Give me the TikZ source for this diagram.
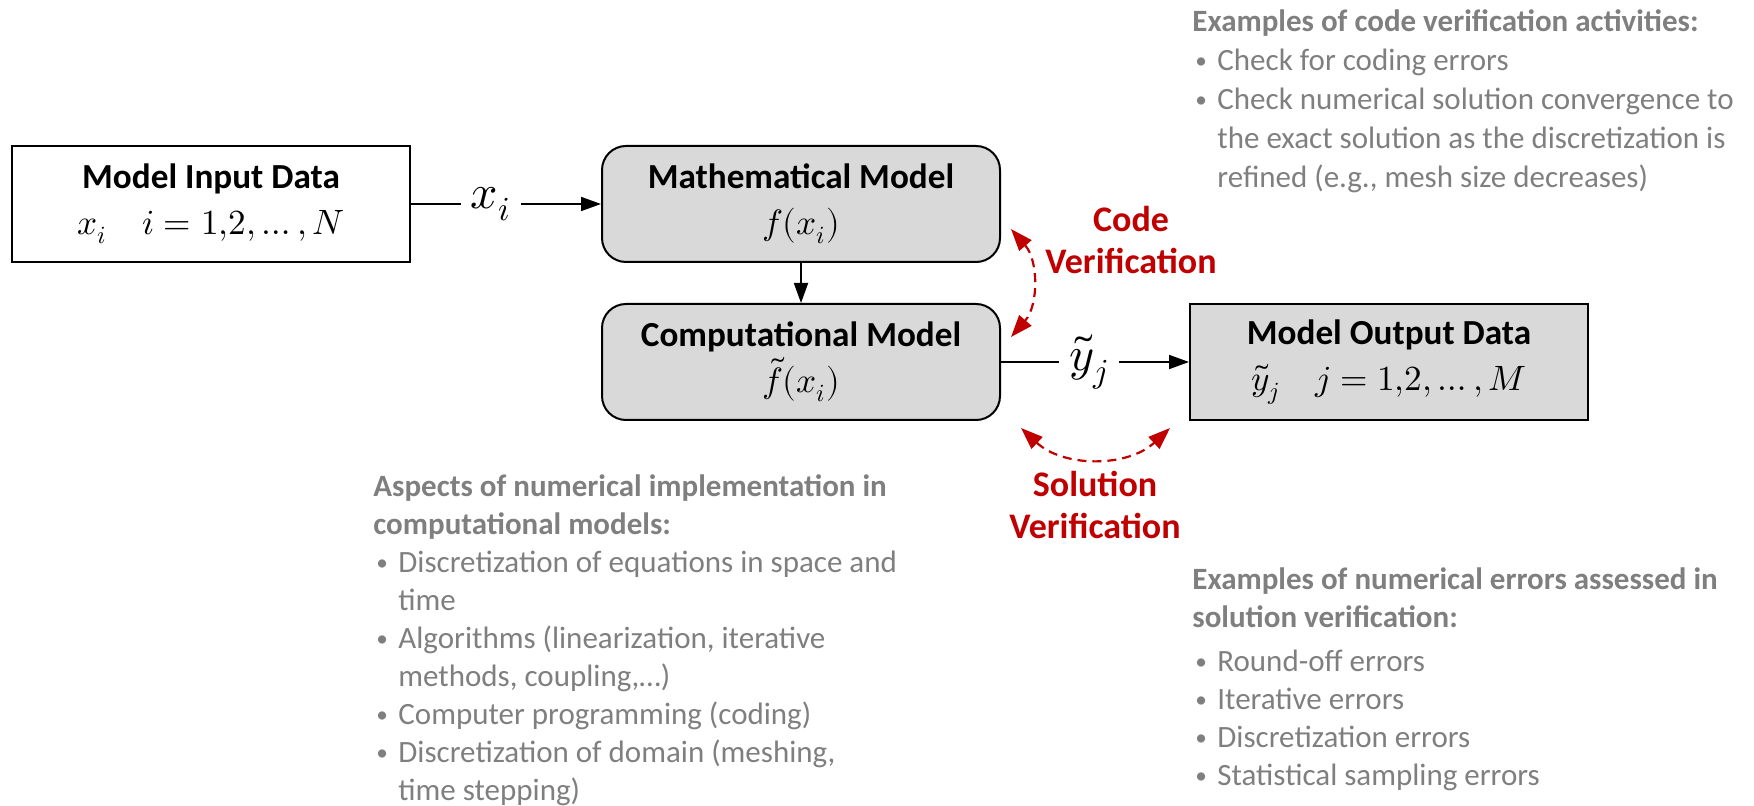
\documentclass[tikz,border=0pt]{standalone}
\usepackage{fontspec}
\usepackage{unicode-math}
\setmainfont{Carlito}
\setmathfont{Latin Modern Math}
\usepackage{tikz}
\usetikzlibrary{arrows.meta}

\definecolor{boxgray}{HTML}{D9D9D9}
\definecolor{notegray}{HTML}{7F7F7F}
\definecolor{verifred}{HTML}{C00000}

\newcommand{\bitem}{\makebox[12.5pt][l]{\hspace*{1.5pt}\raisebox{0.12ex}{\scalebox{0.75}{\textbullet}}}}
\newcommand{\bcont}{\hspace*{12.5pt}}

\tikzset{
  databox/.style={draw, line width=1pt, minimum width=199pt, minimum height=58pt, align=center, font=\fontsize{17.6}{23}\selectfont},
  modelbox/.style={databox, fill=boxgray, rounded corners=12pt},
  flow/.style={line width=0.9pt, -{Triangle[length=10pt,width=7pt]}},
  verif/.style={verifred, line width=1.1pt, dash pattern=on 4.5pt off 3pt, {Triangle[length=11pt,width=8pt]}-{Triangle[length=11pt,width=8pt]}},
  vlabel/.style={text=verifred, align=center, font=\bfseries\fontsize{18}{21}\selectfont},
  sig/.style={inner sep=5pt, font=\fontsize{24}{24}\selectfont},
  note/.style={anchor=north west, inner sep=0pt, align=left, text=notegray, font=\fontsize{15.5}{19}\selectfont}
}

\begin{document}
\begin{tikzpicture}[x=0.5pt, y=-0.5pt]
\useasboundingbox (0,0) rectangle (1754,806);

\node [databox, fill=white] (in) at (211,204) {\textbf{Model Input Data}\\ $x_i\quad i=1{,}2,\dots,N$};
\node [modelbox] (math) at (801,204) {\textbf{Mathematical Model}\\ $f(x_i)$};
\node [modelbox] (comp) at (801,362) {\textbf{Computational Model}\\ $\tilde{f}(x_i)$};
\node [databox, fill=boxgray] (out) at (1389,362) {\textbf{Model Output Data}\\ $\tilde{y}_j\quad j=1{,}2,\dots,M$};

\node [sig] (xin) at (491,204) {$x_i$};
\node [sig] (yout) at (1089,362) {$\tilde{y}_j$};
\draw [line width=0.9pt] (in.east) -- (xin.west); \draw [flow] (xin.east) -- (math.west);
\draw [flow] (math) -- (comp);
\draw [line width=0.9pt] (comp.east) -- (yout.west); \draw [flow] (yout.east) -- (out.west);

% verification loops
\coordinate (cvtop) at (1011,229); \coordinate (cvbot) at (1011,337);
\coordinate (svleft) at (1021,428); \coordinate (svright) at (1170,428);
\draw [verif] (cvtop) to [bend left=41] (cvbot);
\draw [verif] (svleft) to [bend right=43] (svright);
\node [vlabel] (cvlab) at (1131,240) {Code\\Verification};
\node [vlabel] (svlab) at (1095,505) {Solution\\Verification};

\node [note, font=\fontsize{15.5}{19.6}\selectfont] (codenote) at (1192,9) {\textbf{Examples of code verification activities:}\\
\bitem Check for coding errors\\
\bitem Check numerical solution convergence to\\
\bcont the exact solution as the discretization is\\
\bcont refined (e.g., mesh size decreases)};

\node [note] (implnote) at (373,474) {\textbf{Aspects of numerical implementation in}\\
\textbf{computational models:}\\
\bitem Discretization of equations in space and\\
\bcont time\\
\bitem Algorithms (linearization, iterative\\
\bcont methods, coupling,…)\\
\bitem Computer programming (coding)\\
\bitem Discretization of domain (meshing,\\
\bcont time stepping)};

\node [note] (errnote) at (1192,567) {\textbf{Examples of numerical errors assessed in}\\
\textbf{solution verification:}\\[3pt]
\bitem Round-off errors\\
\bitem Iterative errors\\
\bitem Discretization errors\\
\bitem Statistical sampling errors};
\end{tikzpicture}
\end{document}
